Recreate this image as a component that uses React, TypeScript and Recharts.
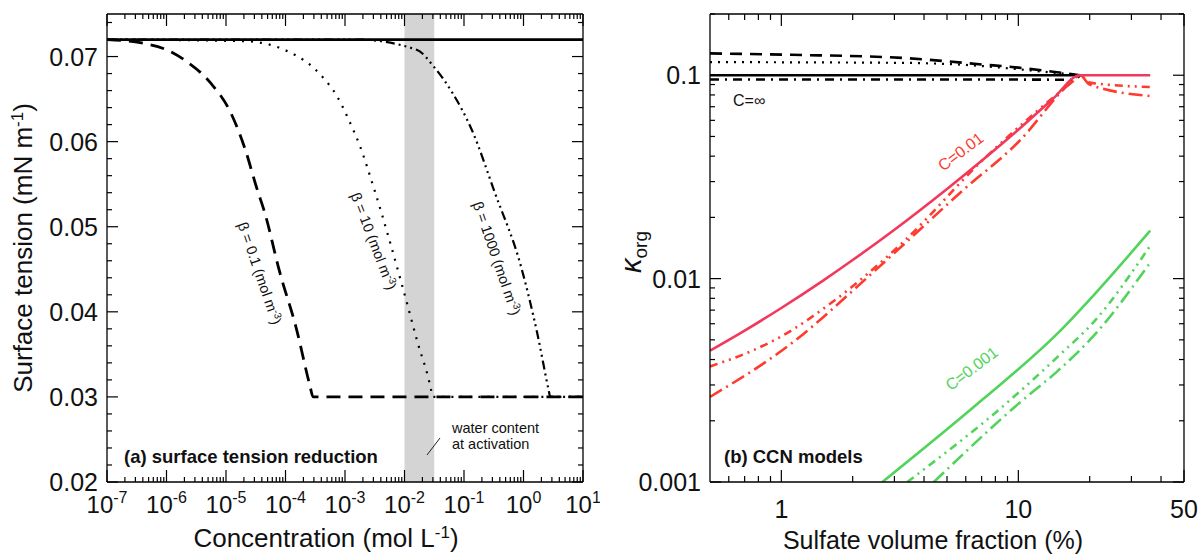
import React from "react";
import { LineChart, Line, XAxis, YAxis, ReferenceArea } from "recharts";

const FONT = "'Liberation Sans', Arial, Helvetica, sans-serif";
const AXIS = { stroke: "#000", strokeWidth: 1.3 };

// ---------- panel (a): surface tension vs concentration ----------
const concExponents = [-7, -6, -5, -4, -3, -2, -1, 0, 1];
const minorMultipliers = [2, 3, 4, 5, 6, 7, 8, 9];
const tensionMajor = [0.02, 0.03, 0.04, 0.05, 0.06, 0.07];
const tensionMinor = [
  0.022, 0.024, 0.026, 0.028, 0.032, 0.034, 0.036, 0.038, 0.042, 0.044, 0.046,
  0.048, 0.052, 0.054, 0.056, 0.058, 0.062, 0.064, 0.066, 0.068, 0.072, 0.074,
];
const activationBand = [0.01, 0.0316];

const waterTension = [
  { c: 1e-7, s: 0.072 },
  { c: 10, s: 0.072 },
];
const beta01 = [
  { c: 1e-7, s: 0.072 },
  { c: 3.8e-7, s: 0.0716 },
  { c: 1e-6, s: 0.0708 },
  { c: 2.2e-6, s: 0.0694 },
  { c: 5.5e-6, s: 0.0669 },
  { c: 1.2e-5, s: 0.0634 },
  { c: 2.1e-5, s: 0.0591 },
  { c: 3.3e-5, s: 0.0545 },
  { c: 4.5e-5, s: 0.0516 },
  { c: 7.9e-5, s: 0.0448 },
  { c: 1.5e-4, s: 0.0382 },
  { c: 2.6e-4, s: 0.0312 },
  { c: 2.9e-4, s: 0.03 },
  { c: 10, s: 0.03 },
];
const beta10 = [
  { c: 1e-7, s: 0.072 },
  { c: 2.1e-5, s: 0.0718 },
  { c: 1.1e-4, s: 0.0706 },
  { c: 4.2e-4, s: 0.0676 },
  { c: 7.4e-4, s: 0.0653 },
  { c: 1.15e-3, s: 0.0626 },
  { c: 1.8e-3, s: 0.0594 },
  { c: 3.1e-3, s: 0.0544 },
  { c: 9.3e-3, s: 0.0429 },
  { c: 1.66e-2, s: 0.0364 },
  { c: 2.8e-2, s: 0.0308 },
  { c: 2.95e-2, s: 0.03 },
  { c: 10, s: 0.03 },
];
const beta1000 = [
  { c: 1e-7, s: 0.072 },
  { c: 1.6e-3, s: 0.072 },
  { c: 1.6e-2, s: 0.0708 },
  { c: 3.2e-2, s: 0.0687 },
  { c: 6.3e-2, s: 0.0658 },
  { c: 0.135, s: 0.0614 },
  { c: 0.33, s: 0.054 },
  { c: 0.91, s: 0.0453 },
  { c: 1.7, s: 0.0375 },
  { c: 2.7, s: 0.0305 },
  { c: 2.8, s: 0.03 },
  { c: 10, s: 0.03 },
];

// ---------- panel (b): kappa_org vs sulfate volume fraction ----------
const sulfMajor = [1, 10, 50];
const sulfLabels = ["1", "10", "50"];
const sulfMinor = [0.6, 0.7, 0.8, 0.9, 2, 3, 4, 5, 6, 7, 8, 9, 20, 30, 40];
const kappaMajor = [0.001, 0.01, 0.1];
const kappaLabels = ["0.001", "0.01", "0.1"];
const kappaMinor = [
  0.002, 0.003, 0.004, 0.005, 0.006, 0.007, 0.008, 0.009, 0.02, 0.03, 0.04,
  0.05, 0.06, 0.07, 0.08, 0.09, 0.2,
];

const blackSolid = [
  { f: 0.5, k: 0.1 },
  { f: 18.2, k: 0.1 },
];
const blackDashed = [
  { f: 0.5, k: 0.128 },
  { f: 1.1, k: 0.126 },
  { f: 3.3, k: 0.1215 },
  { f: 7, k: 0.113 },
  { f: 10, k: 0.109 },
  { f: 14, k: 0.104 },
  { f: 18.2, k: 0.1 },
];
const blackDotted = [
  { f: 0.5, k: 0.116 },
  { f: 3.3, k: 0.115 },
  { f: 7, k: 0.111 },
  { f: 10, k: 0.107 },
  { f: 14, k: 0.103 },
  { f: 18.2, k: 0.1 },
];
const blackDashDot = [
  { f: 0.5, k: 0.0952 },
  { f: 10, k: 0.0952 },
  { f: 17, k: 0.095 },
  { f: 18.2, k: 0.1 },
];
const redSolid = [
  { f: 0.5, k: 0.00442 },
  { f: 0.7, k: 0.00555 },
  { f: 1, k: 0.00717 },
  { f: 1.5, k: 0.00978 },
  { f: 2, k: 0.01234 },
  { f: 3, k: 0.0174 },
  { f: 5, k: 0.0276 },
  { f: 7, k: 0.038 },
  { f: 10, k: 0.054 },
  { f: 14, k: 0.0766 },
  { f: 18.2, k: 0.1 },
  { f: 36, k: 0.1 },
];
const redUpper = [
  { f: 0.5, k: 0.0037 },
  { f: 0.76, k: 0.00444 },
  { f: 1, k: 0.0052 },
  { f: 1.6, k: 0.0075 },
  { f: 3.3, k: 0.0153 },
  { f: 7, k: 0.0378 },
  { f: 12, k: 0.0667 },
  { f: 17, k: 0.0935 },
  { f: 18.2, k: 0.1 },
  { f: 20, k: 0.092 },
  { f: 36, k: 0.0875 },
];
const redLower = [
  { f: 0.5, k: 0.00262 },
  { f: 1.1, k: 0.00479 },
  { f: 2.3, k: 0.0101 },
  { f: 3.3, k: 0.0148 },
  { f: 5.8, k: 0.027 },
  { f: 10.1, k: 0.0475 },
  { f: 16.3, k: 0.09 },
  { f: 18.2, k: 0.1 },
  { f: 20, k: 0.09 },
  { f: 36, k: 0.079 },
];
const greenSolid = [
  { f: 2.67, k: 0.001 },
  { f: 7, k: 0.00252 },
  { f: 14.6, k: 0.00536 },
  { f: 21, k: 0.0084 },
  { f: 36, k: 0.0172 },
];
const greenUpper = [
  { f: 3.4, k: 0.001 },
  { f: 9.2, k: 0.00252 },
  { f: 14.6, k: 0.00411 },
  { f: 21, k: 0.0062 },
  { f: 36, k: 0.0145 },
];
const greenLower = [
  { f: 4.4, k: 0.001 },
  { f: 10.4, k: 0.00252 },
  { f: 14.6, k: 0.0035 },
  { f: 21, k: 0.0053 },
  { f: 36, k: 0.012 },
];

const RED_SOLID = "#f2385c";
const RED = "#ff3a2e";
const GREEN = "#52d35c";

const concMajor = concExponents.map((e) => Math.pow(10, e));
const concTicks = [
  ...concMajor,
  ...concExponents.slice(0, -1).flatMap((e) => minorMultipliers.map((m) => m * Math.pow(10, e))),
];
const tensionTicks = [...tensionMajor, ...tensionMinor];
const sulfTicks = [...sulfMajor, ...sulfMinor];
const kappaTicks = [...kappaMajor, ...kappaMinor];

const idx = (arr: number[], v: number) =>
  arr.findIndex((a) => Math.abs(a - v) <= Math.abs(a) * 1e-6);

const tickLine = (x1: number, y1: number, x2: number, y2: number) => (
  <line x1={x1} y1={y1} x2={x2} y2={y2} stroke="#000" strokeWidth={1.2} />
);

// ---- tick renderers (ticks point inward) ----
const concBottom = (p: any) => {
  const i = idx(concMajor, p.payload.value);
  return (
    <g>
      {tickLine(p.x, p.y, p.x, p.y - (i >= 0 ? 12 : 5))}
      {i >= 0 && (
        <text x={p.x} y={p.y + 31} textAnchor="middle" fontSize={24} fill="#111" fontFamily={FONT}>
          10
          <tspan dy={-10} fontSize={16}>
            {String(concExponents[i])}
          </tspan>
        </text>
      )}
    </g>
  );
};
const concTop = (p: any) => {
  const major = idx(concMajor, p.payload.value) >= 0;
  return <g>{tickLine(p.x, p.y, p.x, p.y + (major ? 12 : 5))}</g>;
};
const tensionLeft = (p: any) => {
  const i = idx(tensionMajor, p.payload.value);
  return (
    <g>
      {tickLine(p.x, p.y, p.x + (i >= 0 ? 11 : 5), p.y)}
      {i >= 0 && (
        <text x={p.x - 9} y={p.y} dy="0.36em" textAnchor="end" fontSize={25} fill="#111" fontFamily={FONT}>
          {tensionMajor[i].toFixed(2)}
        </text>
      )}
    </g>
  );
};
const tensionRight = (p: any) => {
  const major = idx(tensionMajor, p.payload.value) >= 0;
  return <g>{tickLine(p.x, p.y, p.x - (major ? 11 : 5), p.y)}</g>;
};
const sulfBottom = (p: any) => {
  const i = idx(sulfMajor, p.payload.value);
  return (
    <g>
      {tickLine(p.x, p.y, p.x, p.y - (i >= 0 ? 12 : 6))}
      {i >= 0 && (
        <text x={p.x} y={p.y + 36} textAnchor="middle" fontSize={25} fill="#111" fontFamily={FONT}>
          {sulfLabels[i]}
        </text>
      )}
    </g>
  );
};
const sulfTop = (p: any) => {
  const major = idx(sulfMajor, p.payload.value) >= 0;
  return <g>{tickLine(p.x, p.y, p.x, p.y + (major ? 12 : 6))}</g>;
};
const kappaLeft = (p: any) => {
  const i = idx(kappaMajor, p.payload.value);
  return (
    <g>
      {tickLine(p.x, p.y, p.x + (i >= 0 ? 11 : 5), p.y)}
      {i >= 0 && (
        <text x={p.x - 9} y={p.y} dy="0.36em" textAnchor="end" fontSize={25} fill="#111" fontFamily={FONT}>
          {kappaLabels[i]}
        </text>
      )}
    </g>
  );
};
const kappaRight = (p: any) => {
  const major = idx(kappaMajor, p.payload.value) >= 0;
  return <g>{tickLine(p.x, p.y, p.x - (major ? 11 : 5), p.y)}</g>;
};

function TensionPanel() {
  const common = { xAxisId: "b", yAxisId: "l", type: "monotone" as const, dot: false, isAnimationActive: false, stroke: "#000" };
  return (
    <LineChart width={600} height={555} margin={{ top: 9, right: 12, bottom: 13, left: 8 }}>
      <XAxis xAxisId="b" type="number" dataKey="c" scale="log" domain={[1e-7, 10]} allowDataOverflow
        ticks={concTicks} interval={0} tick={concBottom} tickLine={false} tickSize={0} tickMargin={0}
        axisLine={AXIS} height={60} />
      <XAxis xAxisId="t" orientation="top" type="number" dataKey="c" scale="log" domain={[1e-7, 10]} allowDataOverflow
        ticks={concTicks} interval={0} tick={concTop} tickLine={false} tickSize={0} tickMargin={0}
        axisLine={AXIS} height={5} />
      <YAxis yAxisId="l" type="number" dataKey="s" domain={[0.02, 0.075]} allowDataOverflow
        ticks={tensionTicks} interval={0} tick={tensionLeft} tickLine={false} tickSize={0} tickMargin={0}
        axisLine={AXIS} width={99} />
      <YAxis yAxisId="r" orientation="right" type="number" dataKey="s" domain={[0.02, 0.075]} allowDataOverflow
        ticks={tensionTicks} interval={0} tick={tensionRight} tickLine={false} tickSize={0} tickMargin={0}
        axisLine={AXIS} width={5} />
      <ReferenceArea xAxisId="b" yAxisId="l" x1={activationBand[0]} x2={activationBand[1]}
        fill="#d4d4d4" fillOpacity={1} stroke="none" />
      <Line {...common} data={waterTension} dataKey="s" strokeWidth={2.8} />
      <Line {...common} data={beta01} dataKey="s" strokeWidth={2.8} strokeDasharray="14 8" />
      <Line {...common} data={beta10} dataKey="s" strokeWidth={2.2} strokeDasharray="2 7" />
      <Line {...common} data={beta1000} dataKey="s" strokeWidth={2.2} strokeDasharray="9 4 2 4 2 4 2 4" />
    </LineChart>
  );
}

function KappaPanel() {
  const common = { xAxisId: "b", yAxisId: "l", type: "monotone" as const, dot: false, isAnimationActive: false, dataKey: "k" };
  return (
    <LineChart width={598} height={555} margin={{ top: 9, right: 9, bottom: 13, left: 10 }}>
      <XAxis xAxisId="b" type="number" dataKey="f" scale="log" domain={[0.5, 50]} allowDataOverflow
        ticks={sulfTicks} interval={0} tick={sulfBottom} tickLine={false} tickSize={0} tickMargin={0}
        axisLine={AXIS} height={60} />
      <XAxis xAxisId="t" orientation="top" type="number" dataKey="f" scale="log" domain={[0.5, 50]} allowDataOverflow
        ticks={sulfTicks} interval={0} tick={sulfTop} tickLine={false} tickSize={0} tickMargin={0}
        axisLine={AXIS} height={5} />
      <YAxis yAxisId="l" type="number" dataKey="k" scale="log" domain={[0.001, 0.2]} allowDataOverflow
        ticks={kappaTicks} interval={0} tick={kappaLeft} tickLine={false} tickSize={0} tickMargin={0}
        axisLine={AXIS} width={100} />
      <YAxis yAxisId="r" orientation="right" type="number" dataKey="k" scale="log" domain={[0.001, 0.2]} allowDataOverflow
        ticks={kappaTicks} interval={0} tick={kappaRight} tickLine={false} tickSize={0} tickMargin={0}
        axisLine={AXIS} width={5} />
      <Line {...common} data={blackDashed} stroke="#000" strokeWidth={2.6} strokeDasharray="12 8" />
      <Line {...common} data={blackDotted} stroke="#000" strokeWidth={2.2} strokeDasharray="2 6" />
      <Line {...common} data={blackDashDot} stroke="#000" strokeWidth={2.6} strokeDasharray="9 6 2 6" />
      <Line {...common} data={blackSolid} stroke="#000" strokeWidth={2.6} />
      <Line {...common} data={redUpper} stroke={RED} strokeWidth={2.6} strokeDasharray="8 5 2 5 2 5" />
      <Line {...common} data={redLower} stroke={RED} strokeWidth={2.6} strokeDasharray="14 5 2 5" />
      <Line {...common} data={redSolid} stroke={RED_SOLID} strokeWidth={2.6} />
      <Line {...common} data={greenUpper} stroke={GREEN} strokeWidth={2.6} strokeDasharray="8 5 2 5 2 5" />
      <Line {...common} data={greenLower} stroke={GREEN} strokeWidth={2.6} strokeDasharray="14 5 2 5" />
      <Line {...common} data={greenSolid} stroke={GREEN} strokeWidth={2.6} />
    </LineChart>
  );
}

function Annotations() {
  const t = { fontFamily: FONT, fill: "#111" };
  return (
    <svg width={1198} height={555} style={{ position: "absolute", left: 0, top: 0, pointerEvents: "none" }}>
      {/* panel (a) */}
      <text {...t} transform="translate(32,248) rotate(-90)" textAnchor="middle" fontSize={26}>
        Surface tension (mN m<tspan dy={-9} fontSize={17}>-1</tspan>
        <tspan dy={9}>)</tspan>
      </text>
      <text {...t} x={326} y={547} textAnchor="middle" fontSize={26}>
        Concentration (mol L<tspan dy={-9} fontSize={17}>-1</tspan>
        <tspan dy={9}>)</tspan>
      </text>
      <text {...t} x={124} y={463} fontSize={18.5} fontWeight="bold">(a) surface tension reduction</text>
      <text {...t} x={452} y={433} fontSize={14.5}>water content</text>
      <text {...t} x={452} y={449} fontSize={14.5}>at activation</text>
      <line x1={427} y1={455} x2={440} y2={438} stroke="#222" strokeWidth={1} />
      <text {...t} transform="translate(255,275) rotate(71)" textAnchor="middle" fontSize={14.5}>
        β = 0.1 (mol m<tspan dy={-5} fontSize={10}>-3</tspan>
        <tspan dy={5}>)</tspan>
      </text>
      <text {...t} transform="translate(369,243) rotate(69)" textAnchor="middle" fontSize={14.5}>
        β = 10 (mol m<tspan dy={-5} fontSize={10}>-3</tspan>
        <tspan dy={5}>)</tspan>
      </text>
      <text {...t} transform="translate(492,260) rotate(71)" textAnchor="middle" fontSize={14.5}>
        β = 1000 (mol m<tspan dy={-5} fontSize={10}>-3</tspan>
        <tspan dy={5}>)</tspan>
      </text>
      {/* panel (b) */}
      <text {...t} transform="translate(641,252) rotate(-90)" textAnchor="middle">
        <tspan fontSize={29} fontStyle="italic">κ</tspan>
        <tspan fontSize={19} dy={6}>org</tspan>
      </text>
      <text {...t} x={933} y={549} textAnchor="middle" fontSize={25}>Sulfate volume fraction (%)</text>
      <text {...t} x={724} y={463} fontSize={18.5} fontWeight="bold">(b) CCN models</text>
      <text {...t} x={733} y={106} fontSize={16}>C=∞</text>
      <text fontFamily={FONT} fill={RED} transform="translate(964,156) rotate(-37)" textAnchor="middle" fontSize={16}>
        C=0.01
      </text>
      <text fontFamily={FONT} fill={GREEN} transform="translate(975,373) rotate(-37)" textAnchor="middle" fontSize={16}>
        C=0.001
      </text>
    </svg>
  );
}

export default function App() {
  return (
    <div style={{ position: "absolute", left: 0, top: 0, width: 1198, height: 555, background: "#fff", fontFamily: FONT }}>
      <div style={{ position: "absolute", left: 0, top: 0 }}>
        <TensionPanel />
      </div>
      <div style={{ position: "absolute", left: 600, top: 0 }}>
        <KappaPanel />
      </div>
      <Annotations />
    </div>
  );
}
